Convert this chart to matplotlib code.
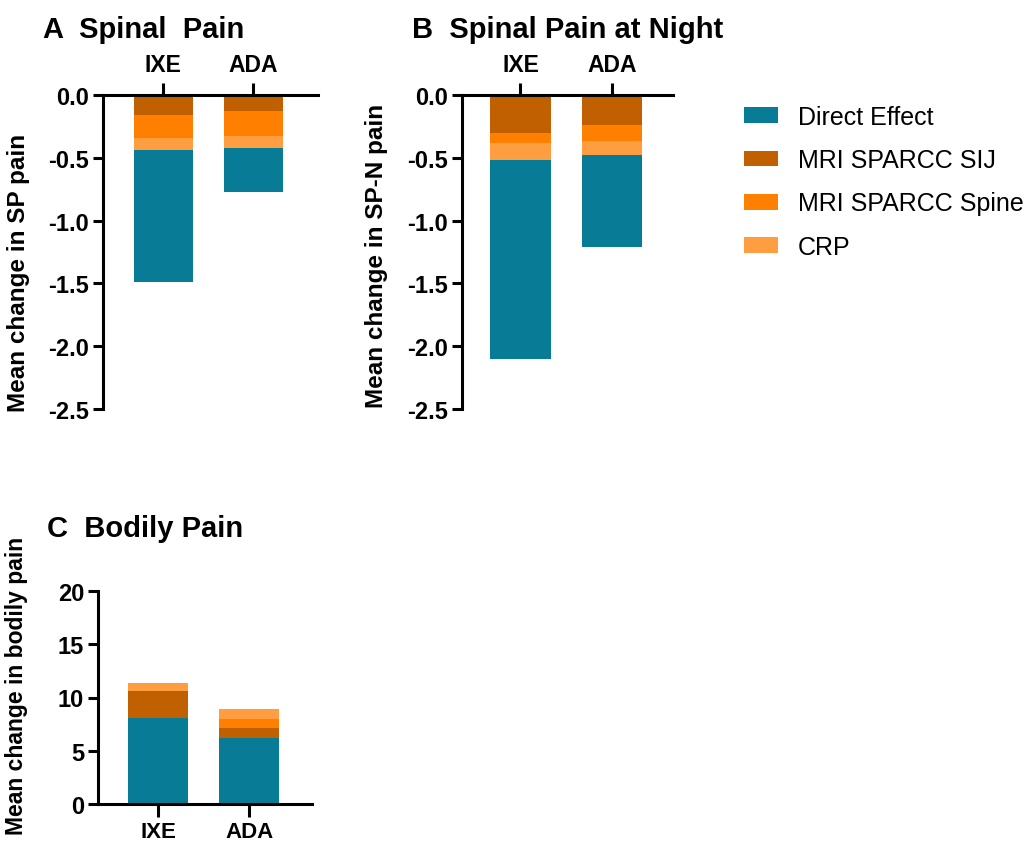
import numpy as np
import matplotlib
matplotlib.use("Agg")
import matplotlib.pyplot as plt
from matplotlib.patches import Patch

plt.rcParams['font.family'] = ['Liberation Sans', 'DejaVu Sans']

groups = ['IXE', 'ADA']
components = ['Direct Effect', 'MRI SPARCC SIJ', 'MRI SPARCC Spine', 'CRP']
colors = {'Direct Effect': '#087C96', 'MRI SPARCC SIJ': '#C06000',
          'MRI SPARCC Spine': '#FF8000', 'CRP': '#FF9E40'}

# panel A - spinal pain (stacked from 0 downward: SIJ, Spine, CRP, Direct)
sp_sij = [-0.16, -0.13]
sp_spine = [-0.18, -0.20]
sp_crp = [-0.10, -0.09]
sp_direct = [-1.05, -0.35]

# panel B - spinal pain at night
spn_sij = [-0.30, -0.24]
spn_spine = [-0.08, -0.13]
spn_crp = [-0.14, -0.11]
spn_direct = [-1.58, -0.73]

# panel C - bodily pain (stacked from 0 upward: Direct, SIJ, Spine, CRP)
bp_direct = [8.08, 6.20]
bp_sij = [2.56, 0.94]
bp_spine = [0.0, 0.87]
bp_crp = [0.75, 0.91]

W, H = 1030, 845
fig = plt.figure(figsize=(W / 100, H / 100), dpi=100)

def px_axes(left, top, right, bottom):
    return fig.add_axes([left / W, 1 - bottom / H, (right - left) / W, (bottom - top) / H])

def stack(ax, series, names):
    x = np.arange(len(groups))
    base = np.zeros(len(groups))
    for vals, name in zip(series, names):
        vals = np.array(vals)
        ax.bar(x, vals, bottom=base, width=0.66, color=colors[name], linewidth=0)
        base = base + vals

def style(ax, top):
    for s in ['left', 'right', 'top', 'bottom']:
        ax.spines[s].set_visible(False)
    ax.spines['left'].set_visible(True)
    ax.spines['top' if top else 'bottom'].set_visible(True)
    for s in ax.spines.values():
        s.set_linewidth(2.2)
    ax.set_xticks(np.arange(len(groups)))
    ax.set_xticklabels(groups, fontsize=16.5 if top else 16, fontweight='bold')
    if top:
        ax.xaxis.tick_top()
    ax.tick_params(axis='x', length=9, width=2.2, pad=5 if top else 3)
    ax.tick_params(axis='y', length=7, width=2.2, pad=3, labelsize=17)
    for lab in ax.get_yticklabels():
        lab.set_fontweight('bold')

# A
axA = px_axes(103, 96, 318, 410)
stack(axA, [sp_sij, sp_spine, sp_crp, sp_direct],
      ['MRI SPARCC SIJ', 'MRI SPARCC Spine', 'CRP', 'Direct Effect'])
axA.set_xlim(-0.67, 1.72)
axA.set_ylim(-2.5, 0)
axA.set_yticks([0, -0.5, -1.0, -1.5, -2.0, -2.5])
axA.set_yticklabels(['0.0', '-0.5', '-1.0', '-1.5', '-2.0', '-2.5'])
style(axA, True)
axA.set_ylabel('Mean change in SP pain', fontsize=17.5, fontweight='bold')
axA.yaxis.set_label_coords(-0.34, 0.435)

# B
axB = px_axes(462, 96, 673, 410)
stack(axB, [spn_sij, spn_spine, spn_crp, spn_direct],
      ['MRI SPARCC SIJ', 'MRI SPARCC Spine', 'CRP', 'Direct Effect'])
axB.set_xlim(-0.64, 1.67)
axB.set_ylim(-2.5, 0)
axB.set_yticks([0, -0.5, -1.0, -1.5, -2.0, -2.5])
axB.set_yticklabels(['0.0', '-0.5', '-1.0', '-1.5', '-2.0', '-2.5'])
style(axB, True)
axB.set_ylabel('Mean change in SP-N pain', fontsize=17.5, fontweight='bold')
axB.yaxis.set_label_coords(-0.35, 0.49)

# C
axC = px_axes(98, 592, 312, 805)
stack(axC, [bp_direct, bp_sij, bp_spine, bp_crp],
      ['Direct Effect', 'MRI SPARCC SIJ', 'MRI SPARCC Spine', 'CRP'])
axC.set_xlim(-0.665, 1.69)
axC.set_ylim(0, 20)
axC.set_yticks([0, 5, 10, 15, 20])
style(axC, False)
axC.set_ylabel('Mean change in bodily pain', fontsize=16.5, fontweight='bold')
axC.yaxis.set_label_coords(-0.327, 0.56)

# titles
fig.text(43 / W, 1 - 38 / H, 'A  Spinal  Pain', fontsize=21, fontweight='bold', va='baseline')
fig.text(412 / W, 1 - 38 / H, 'B  Spinal Pain at Night', fontsize=21, fontweight='bold', va='baseline')
fig.text(47 / W, 1 - 537 / H, 'C  Bodily Pain', fontsize=21, fontweight='bold', va='baseline')

handles = [Patch(facecolor=colors[c], edgecolor='none') for c in components]
fig.legend(handles, components, loc='upper left', bbox_to_anchor=(744 / W, 1 - 106 / H),
           frameon=False, fontsize=18, borderpad=0, borderaxespad=0,
           handlelength=1.35, handleheight=0.6, handletextpad=0.8, labelspacing=0.77)

fig.savefig('out.png', dpi=100)
